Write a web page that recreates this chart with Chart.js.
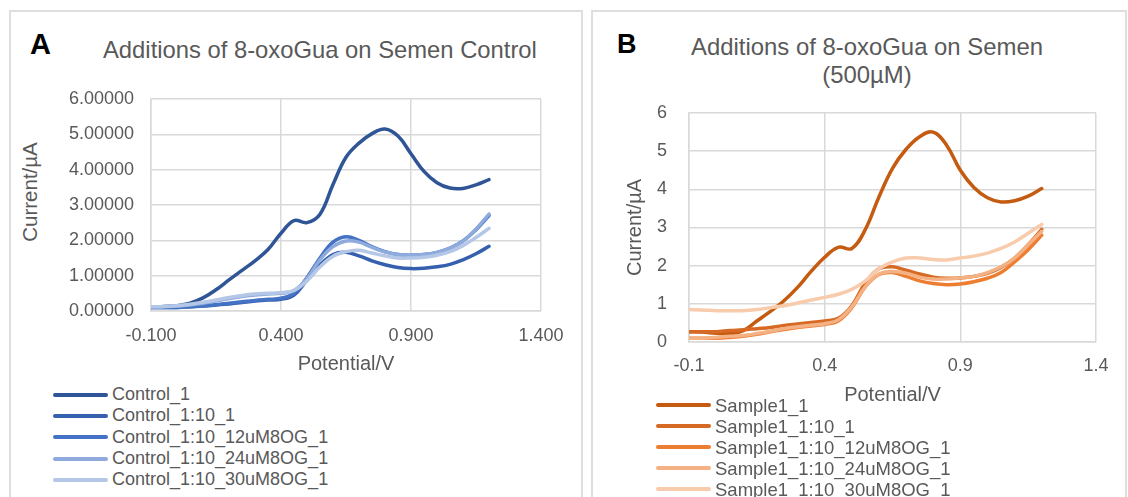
<!DOCTYPE html>
<html>
<head>
<meta charset="utf-8">
<script src="https://cdn.jsdelivr.net/npm/chart.js@4/dist/chart.umd.min.js"></script>
<style>
  html, body { margin:0; padding:0; background:#fff; }
  body { width:1128px; height:497px; position:relative; overflow:hidden; font-family:'Liberation Sans', Arial, sans-serif; color:#595959; }
  .panel { position:absolute; border:2px solid #DEDEDE; box-sizing:border-box; }
  .abs { position:absolute; white-space:nowrap; }
  .letter { font-weight:bold; color:#000; line-height:1; }
  .legend { position:absolute; }
  .legend .item { display:flex; align-items:center; white-space:nowrap; }
  .legend .swatch { width:55px; height:4px; border-radius:2px; margin-right:4px; }
  canvas { position:absolute; }
</style>
</head>
<body>
<div class="panel" style="left:9px; top:10px; width:574px; height:500px;"></div>
<div class="panel" style="left:591px; top:10px; width:536px; height:500px;"></div>

<div class="abs letter" style="left:30px; top:30px; font-size:29px;">A</div>
<div class="abs" style="left:103px; top:38px; font-size:23.8px; line-height:1;">Additions of 8-oxoGua on Semen Control</div>
<div class="abs letter" style="left:617px; top:31px; font-size:27px;">B</div>
<div class="abs" style="left:617px; top:33px; width:500px; text-align:center; font-size:23.9px; line-height:28px;">Additions of 8-oxoGua on Semen<br>(500µM)</div>
<div class="abs" style="left:30px; top:192px; font-size:20.5px; line-height:1; transform:translate(-50%,-50%) rotate(-90deg);">Current/µA</div>

<canvas id="cA" width="580" height="320" style="left:0px; top:60px; width:580px; height:320px;"></canvas>
<canvas id="cB" width="538" height="360" style="left:590px; top:60px; width:538px; height:360px;"></canvas>

<div id="legA" class="legend" style="left:53px; top:384px; font-size:18px;"></div>
<div id="legB" class="legend" style="left:656px; top:394.5px; font-size:18.5px;"></div>

<script>
// ---------- DATA ----------
const potentials = [-0.1,-0.05,0,0.05,0.1,0.15,0.2,0.25,0.3,0.35,0.4,0.45,0.5,0.55,0.6,0.65,0.7,0.75,0.8,0.85,0.9,0.95,1.0,1.05,1.1,1.15,1.2];

const seriesNamesA = ["Control_1","Control_1:10_1","Control_1:10_12uM8OG_1","Control_1:10_24uM8OG_1","Control_1:10_30uM8OG_1"];
const control_1        = [0.12,0.13,0.15,0.22,0.37,0.6,0.88,1.15,1.42,1.74,2.2,2.56,2.5,2.74,3.58,4.35,4.75,5.02,5.15,4.95,4.45,3.95,3.63,3.48,3.47,3.57,3.72];
const control_1to10    = [0.1,0.1,0.1,0.12,0.14,0.17,0.2,0.24,0.28,0.31,0.33,0.45,0.88,1.3,1.6,1.66,1.56,1.42,1.31,1.23,1.2,1.21,1.25,1.32,1.45,1.62,1.83];
const control_12uM     = [0.1,0.1,0.1,0.12,0.15,0.18,0.22,0.26,0.3,0.33,0.36,0.5,0.95,1.5,1.95,2.1,2.0,1.82,1.68,1.6,1.58,1.6,1.66,1.78,1.98,2.3,2.7];
const control_24uM     = [0.12,0.12,0.14,0.17,0.22,0.28,0.35,0.41,0.45,0.48,0.5,0.58,0.92,1.45,1.82,1.98,1.95,1.8,1.67,1.6,1.58,1.6,1.66,1.78,1.98,2.32,2.74];
const control_30uM     = [0.12,0.13,0.15,0.19,0.25,0.31,0.38,0.44,0.48,0.5,0.52,0.58,0.85,1.25,1.55,1.68,1.72,1.64,1.56,1.5,1.5,1.52,1.58,1.68,1.85,2.08,2.34];

const seriesNamesB = ["Sample1_1","Sample1_1:10_1","Sample1_1:10_12uM8OG_1","Sample1_1:10_24uM8OG_1","Sample1_1:10_30uM8OG_1"];
const sample_1         = [0.27,0.26,0.23,0.22,0.3,0.55,0.8,1.08,1.43,1.85,2.22,2.48,2.45,2.95,3.8,4.55,5.05,5.38,5.5,5.15,4.5,4.05,3.78,3.67,3.7,3.82,4.02];
const sample_1to10     = [0.27,0.27,0.27,0.3,0.32,0.35,0.38,0.43,0.47,0.51,0.55,0.62,0.95,1.55,1.92,1.97,1.88,1.78,1.7,1.67,1.68,1.72,1.8,1.95,2.2,2.55,2.95];
const sample_12uM      = [0.1,0.1,0.1,0.12,0.15,0.2,0.27,0.33,0.38,0.42,0.46,0.55,0.9,1.45,1.77,1.82,1.72,1.6,1.53,1.5,1.52,1.58,1.67,1.82,2.1,2.42,2.8];
const sample_24uM      = [0.1,0.1,0.12,0.15,0.17,0.22,0.28,0.35,0.4,0.44,0.48,0.58,0.92,1.45,1.78,1.85,1.8,1.7,1.65,1.65,1.68,1.72,1.82,1.97,2.2,2.55,2.9];
const sample_30uM      = [0.85,0.84,0.82,0.82,0.82,0.85,0.9,0.95,1.02,1.1,1.17,1.25,1.38,1.6,1.92,2.1,2.2,2.2,2.16,2.15,2.2,2.25,2.33,2.45,2.62,2.85,3.08];

const xTicks = [-0.1, 0.4, 0.9, 1.4];
const yTicks = [0,1,2,3,4,5,6];

// ---------- STYLE ----------
const coloursA = ["#2F5597","#3560AE","#4472C4","#8FAADC","#B4C7E7"];
const coloursB = ["#C55A11","#D66A24","#ED7D31","#F4B183","#F8CBAD"];
const FONT = "'Liberation Sans', Arial, sans-serif";
const GRID = "#D9D9D9";
const TXT = "#595959";

function makeDatasets(names, arrays, colours) {
  return names.map((n, i) => ({
    label: n,
    data: potentials.map((x, k) => ({ x: x, y: arrays[i][k] })),
    borderColor: colours[i],
    backgroundColor: colours[i],
    borderWidth: 3.5,
    pointRadius: 0,
    tension: 0.4,
    borderCapStyle: 'round',
    borderJoinStyle: 'round',
    fill: false,
    order: names.length - i
  }));
}

function makeChart(id, datasets, cfg) {
  return new Chart(document.getElementById(id), {
    type: 'line',
    data: { datasets: datasets },
    options: {
      responsive: false,
      animation: false,
      devicePixelRatio: 1,
      layout: { padding: cfg.padding },
      plugins: { legend: { display: false }, tooltip: { enabled: false }, title: { display: false } },
      scales: {
        x: {
          type: 'linear', min: -0.1, max: 1.4,
          afterBuildTicks: s => { s.ticks = xTicks.map(v => ({ value: v })); },
          afterFit: s => { s.height = cfg.xHeight; },
          grid: { color: GRID, lineWidth: 1.5, drawTicks: false },
          border: { color: GRID, width: 1.5 },
          ticks: { color: TXT, font: { family: FONT, size: 18 }, padding: cfg.xPad, maxRotation: 0,
                   callback: v => Number(v).toFixed(cfg.xDec) },
          title: { display: true, text: 'Potential/V', color: TXT, font: { family: FONT, size: 20 } }
        },
        y: {
          type: 'linear', min: 0, max: 6,
          afterBuildTicks: s => { s.ticks = yTicks.map(v => ({ value: v })); },
          afterFit: s => { s.width = cfg.yWidth; },
          grid: { color: GRID, lineWidth: 1.5, drawTicks: false },
          border: { color: GRID, width: 1.5 },
          ticks: { color: TXT, font: { family: FONT, size: 18 }, padding: cfg.yPad,
                   callback: v => Number(v).toFixed(cfg.yDec) },
          title: { display: cfg.yTitle, text: 'Current/µA', color: TXT, font: { family: FONT, size: 20 } }
        }
      }
    }
  });
}

function makeLegend(id, names, colours, rowH) {
  const el = document.getElementById(id);
  names.forEach((n, i) => {
    const it = document.createElement('div');
    it.className = 'item';
    it.style.height = rowH + 'px';
    it.style.lineHeight = rowH + 'px';
    const sw = document.createElement('div');
    sw.className = 'swatch';
    sw.style.background = colours[i];
    const tx = document.createElement('span');
    tx.textContent = n;
    it.appendChild(sw); it.appendChild(tx);
    el.appendChild(it);
  });
}

makeChart('cA', makeDatasets(seriesNamesA, [control_1, control_1to10, control_12uM, control_24uM, control_30uM], coloursA), {
  padding: { top: 39, right: 39, left: 0, bottom: 0 },
  xHeight: 69, yWidth: 151, xPad: 14, yPad: 17, xDec: 3, yDec: 5, yTitle: false
});
makeChart('cB', makeDatasets(seriesNamesB, [sample_1, sample_1to10, sample_12uM, sample_24uM, sample_30uM], coloursB), {
  padding: { top: 53, right: 32, left: 29, bottom: 9 },
  xHeight: 69, yWidth: 70, xPad: 13, yPad: 22, xDec: 1, yDec: 0, yTitle: true
});

makeLegend('legA', seriesNamesA, coloursA, 21.3);
makeLegend('legB', seriesNamesB, coloursB, 21);
</script>
</body>
</html>
